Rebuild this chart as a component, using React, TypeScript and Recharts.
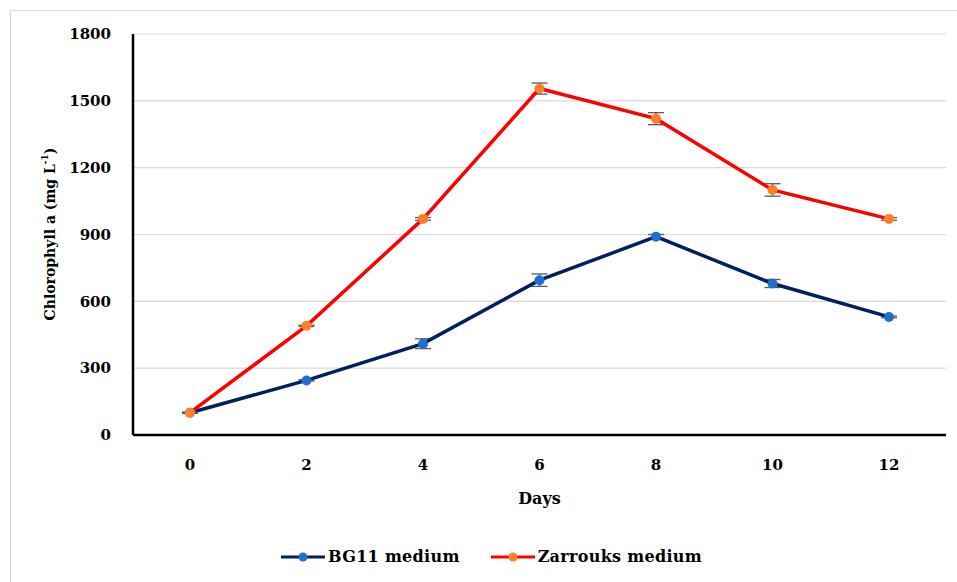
import { LineChart, Line, XAxis, YAxis, CartesianGrid, ErrorBar, Legend } from "recharts";

// Chlorophyll a over 12 days, two growth media
const days = ["0", "2", "4", "6", "8", "10", "12"];
const bg11 = [100, 245, 410, 695, 890, 680, 530];
const bg11Err = [2, 3, 22, 28, 10, 18, 4];
const zarrouk = [100, 490, 970, 1555, 1420, 1100, 970];
const zarroukErr = [2, 3, 6, 25, 27, 28, 6];
const yTicks = [0, 300, 600, 900, 1200, 1500, 1800];

const FONT = "'DejaVu Serif', 'Liberation Serif', serif";

const data = days.map((d, i) => ({
  day: d,
  bg11: bg11[i],
  bg11Err: bg11Err[i],
  zarrouk: zarrouk[i],
  zarroukErr: zarroukErr[i],
}));

const series = [
  { name: "BG11 medium", line: "#002060", dot: "#1f6fd0" },
  { name: "Zarrouks medium", line: "#ff0000", dot: "#ff7f27" },
];

function LegendRow() {
  return (
    <div style={{ display: "flex", justifyContent: "center", gap: 30, fontFamily: FONT, fontWeight: "bold", fontSize: 16, color: "#000", paddingLeft: 36, paddingTop: 20 }}>
      {series.map((s) => (
        <div key={s.name} style={{ display: "flex", alignItems: "center" }}>
          <svg width={46} height={12}>
            <line x1={1} y1={6} x2={45} y2={6} stroke={s.line} strokeWidth={3} />
            <circle cx={23} cy={6} r={4.5} fill={s.dot} />
          </svg>
          <span style={{ marginLeft: 2, letterSpacing: 0.3 }}>{s.name}</span>
        </div>
      ))}
    </div>
  );
}

function YLabel() {
  return (
    <text x={50} y={234} transform="rotate(-90 50 234)" textAnchor="middle" dominantBaseline="central"
      fontFamily={FONT} fontWeight="bold" fontSize={14} fill="#000">
      Chlorophyll a (mg L<tspan dy={-5} fontSize={9}>-1</tspan><tspan dy={5}>)</tspan>
    </text>
  );
}

export default function App() {
  const tick = { fontFamily: FONT, fontWeight: "bold", fontSize: 15, fill: "#000" };
  return (
    <div style={{ position: "absolute", left: 0, top: 0, width: 957, height: 582, overflow: "hidden", background: "#fff" }}>
      <div style={{ position: "absolute", left: 10, top: 10, width: 1000, height: 700, border: "1px solid #d9d9d9" }} />
      <LineChart width={957} height={582} data={data} margin={{ top: 34, right: 11, bottom: 0, left: 0 }}>
        <CartesianGrid vertical={false} stroke="#d9d9d9" strokeWidth={1.2} />
        <XAxis dataKey="day" height={92} tick={tick} tickSize={0} tickMargin={24} padding={{ left: 57, right: 57 }}
          axisLine={{ stroke: "#000", strokeWidth: 2.5 }} tickLine={false}
          label={{ value: "Days", position: "insideTop", offset: 58, style: { fontFamily: FONT, fontWeight: "bold", fontSize: 16, fill: "#000" } }} />
        <YAxis width={133} domain={[0, 1800]} ticks={yTicks} tick={tick} tickSize={0} tickMargin={22}
          axisLine={{ stroke: "#000", strokeWidth: 2.5 }} tickLine={false} label={<YLabel />} />
        <Legend verticalAlign="bottom" height={55} content={<LegendRow />} />
        <Line dataKey="bg11" name="BG11 medium" stroke="#002060" strokeWidth={3.5}
          dot={{ r: 5, fill: "#1f6fd0", stroke: "#1f6fd0", strokeWidth: 0 }} isAnimationActive={false}>
          <ErrorBar dataKey="bg11Err" width={8} stroke="#595959" strokeWidth={1.3} />
        </Line>
        <Line dataKey="zarrouk" name="Zarrouks medium" stroke="#ff0000" strokeWidth={3.5}
          dot={{ r: 5, fill: "#ff7f27", stroke: "#ff7f27", strokeWidth: 0 }} isAnimationActive={false}>
          <ErrorBar dataKey="zarroukErr" width={8} stroke="#595959" strokeWidth={1.3} />
        </Line>
      </LineChart>
    </div>
  );
}
